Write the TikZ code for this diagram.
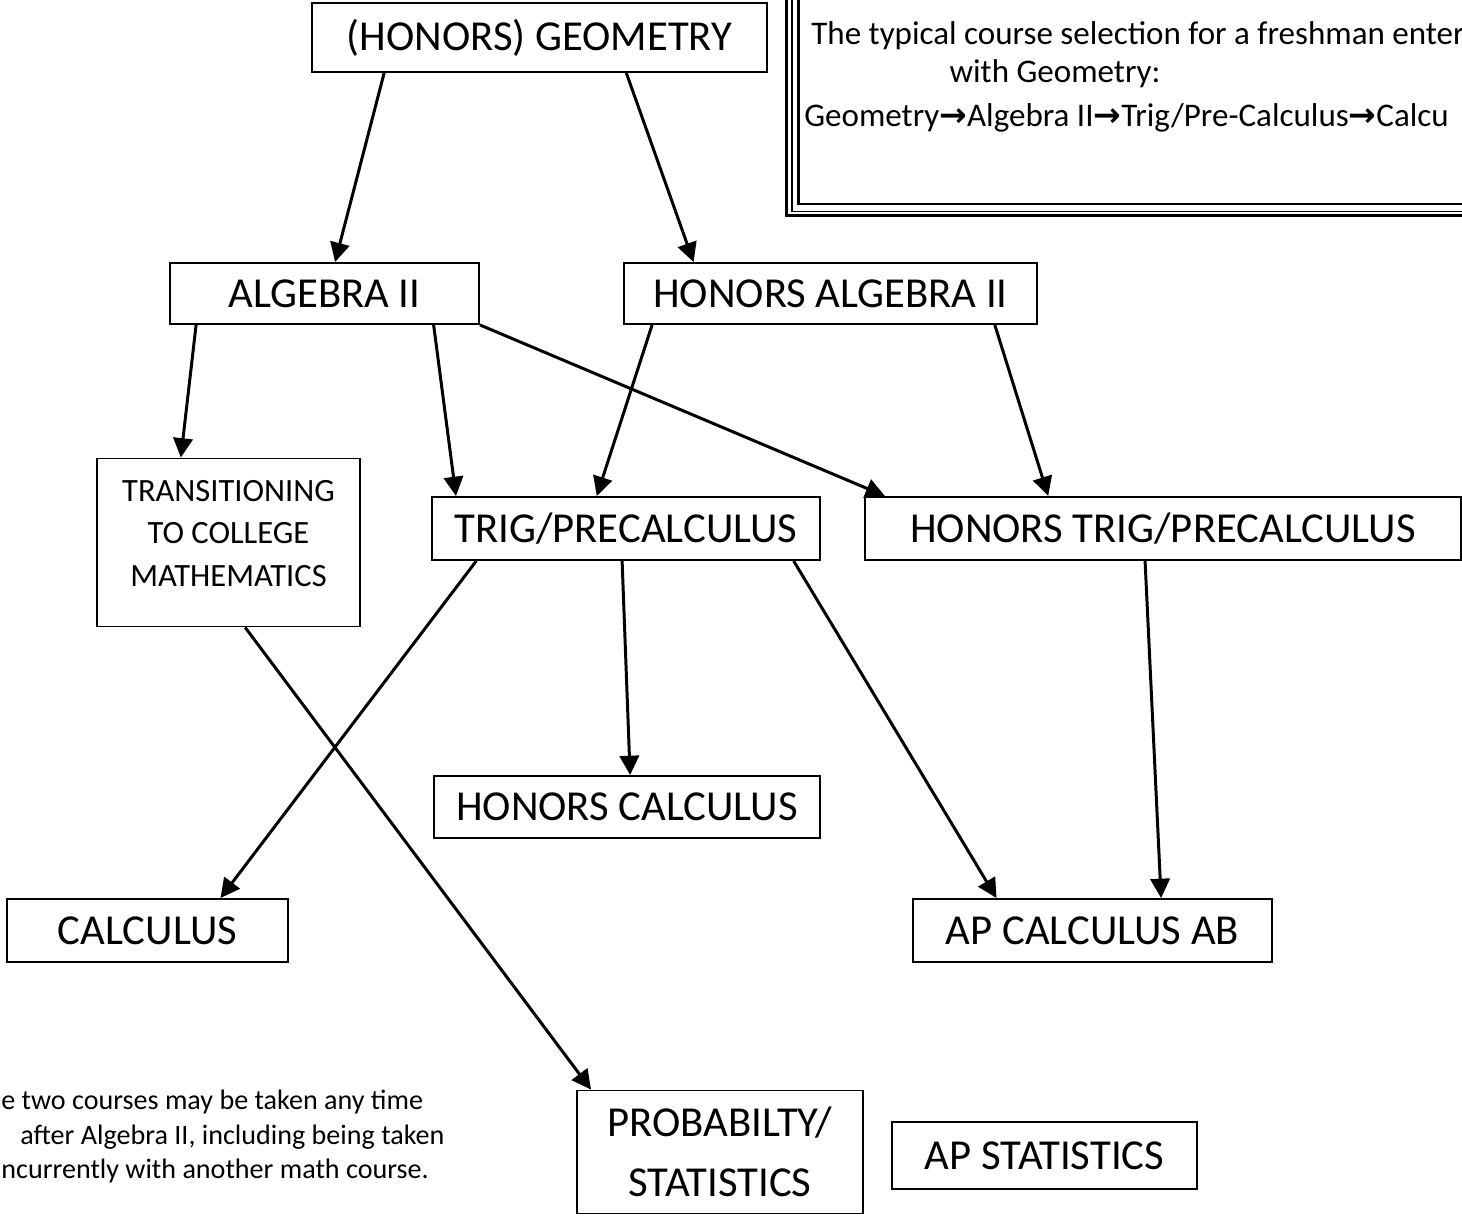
\documentclass[tikz,border=0pt]{standalone}
\usepackage{fontspec}
\setmainfont{Carlito}
\newfontfamily\arrowfont{DejaVu Sans}
\usetikzlibrary{calc,arrows.meta}
\newlength\pxu
\setlength\pxu{0.02cm}
\tikzset{
	course/.style={draw, line width=1.1pt, inner sep=0pt, align=center, font=\fontsize{24.3}{34}\selectfont},
	flow/.style={line width=1.7pt, -{Triangle[length=11pt,width=11pt]}},
	smalltxt/.style={inner sep=0pt, align=center, font=\fontsize{18.5}{24}\selectfont},
	notetxt/.style={inner sep=0pt, font=\fontsize{18.8}{24}\selectfont},
	foottxt/.style={inner sep=0pt, font=\fontsize{16}{20}\selectfont},
}

\begin{document}
\begin{tikzpicture}[x=0.02cm, y=-0.02cm]
		\useasboundingbox (0,0) rectangle (1462,1216);
		\clip (0,0) rectangle (1462,1216);
		
		% top row
		\node[course, minimum width=455\pxu, minimum height=69\pxu] (geom) at (539.5,37.5) {(HONORS) GEOMETRY};
		
		% second row
		\node[course, minimum width=309\pxu, minimum height=61\pxu] (alg) at (324.5,293.5) {ALGEBRA II};
		\node[course, minimum width=413\pxu, minimum height=61\pxu] (halg) at (830.5,293.5) {HONORS ALGEBRA II};
		
		% third row
		\node[course, minimum width=263\pxu, minimum height=168\pxu] (trans) at (228.5,542.5) {};
		\node[smalltxt] (transtxt) at ($(trans.center)+(0,-9)$) {TRANSITIONING\\TO COLLEGE\\MATHEMATICS};
		\node[course, minimum width=388\pxu, minimum height=63\pxu] (trig) at (626,528.5) {TRIG/PRECALCULUS};
		\node[course, minimum width=596\pxu, minimum height=63\pxu] (htrig) at (1163,528.5) {HONORS TRIG/PRECALCULUS};
		
		% calculus
		\node[course, minimum width=386\pxu, minimum height=62\pxu] (hcalc) at (627,807) {HONORS CALCULUS};
		\node[course, minimum width=281\pxu, minimum height=63\pxu] (calc) at (147.5,930.5) {CALCULUS};
		\node[course, minimum width=359\pxu, minimum height=63\pxu] (apab) at (1092.5,930.5) {AP CALCULUS AB};
		
		% statistics
		\node[course, minimum width=286\pxu, minimum height=123\pxu] (prob) at (720,1152) {PROBABILTY/\\STATISTICS};
		\node[course, minimum width=305\pxu, minimum height=67\pxu] (apstat) at (1044.5,1155.5) {AP STATISTICS};
		
		% note box
		\draw[line width=1.7pt] (786.5,-20) rectangle (1500,215.5);
		\draw[line width=0.7pt] (792,-20) rectangle (1500,211.5);
		\draw[line width=1.4pt] (798.5,-20) rectangle (1500,204);
		\node[notetxt, anchor=west] (note1) at (811,36) {The typical course selection for a freshman enter};
		\node[notetxt] (note2) at (1055,74) {with Geometry:};
		\node[notetxt, anchor=west] (note3) at (804,118) {Geometry{\arrowfont\bfseries →}Algebra II{\arrowfont\bfseries →}Trig/Pre-Calculus{\arrowfont\bfseries →}Calcu};
		
		% footnote
		\node[foottxt, anchor=west] (foot1) at (1,1102) {e two courses may be taken any time};
		\node[foottxt, anchor=west] (foot2) at (20,1137) {after Algebra II, including being taken};
		\node[foottxt, anchor=west] (foot3) at (1,1171) {ncurrently with another math course.};
		
		% arrows
		\draw[flow] ($(geom.south west)!0.16!(geom.south east)$) -- ($(alg.north west)!0.534!(alg.north east)$);
		\draw[flow] ($(geom.south west)!0.69!(geom.south east)$) -- ($(halg.north west)!0.17!(halg.north east)$);
		
		\draw[flow] ($(alg.south west)!0.087!(alg.south east)$) -- ($(trans.north west)!0.32!(trans.north east)$);
		\draw[flow] ($(alg.south west)!0.851!(alg.south east)$) -- ($(trig.north west)!0.064!(trig.north east)$);
		\draw[flow] (alg.south east) -- ($(htrig.north west)!0.035!(htrig.north east)$);
		\draw[flow] ($(halg.south west)!0.07!(halg.south east)$) -- ($(trig.north west)!0.425!(trig.north east)$);
		\draw[flow] ($(halg.south west)!0.896!(halg.south east)$) -- ($(htrig.north west)!0.308!(htrig.north east)$);
		
		\draw[flow] ($(trig.south west)!0.116!(trig.south east)$) -- ($(calc.north west)!0.758!(calc.north east)$);
		\draw[flow] ($(trig.south west)!0.49!(trig.south east)$) -- ($(hcalc.north west)!0.508!(hcalc.north east)$);
		\draw[flow] ($(trig.south west)!0.93!(trig.south east)$) -- ($(apab.north west)!0.234!(apab.north east)$);
		\draw[flow] ($(htrig.south west)!0.47!(htrig.south east)$) -- ($(apab.north west)!0.69!(apab.north east)$);
		
		\draw[flow] ($(trans.south west)!0.563!(trans.south east)$) -- ($(prob.north west)!0.052!(prob.north east)$);
		
\end{tikzpicture}
\end{document}
